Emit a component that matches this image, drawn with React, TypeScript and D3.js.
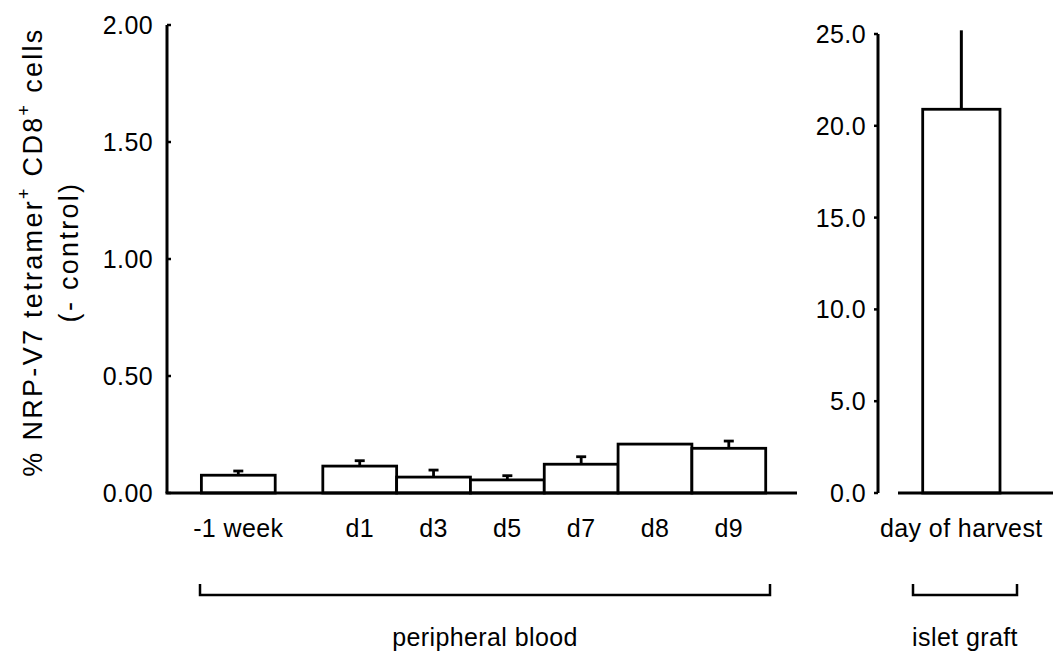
import React from "react";
import * as d3 from "d3";

const categories = ["-1 week", "d1", "d3", "d5", "d7", "d8", "d9"];
const slots = [0, 1.645, 2.645, 3.645, 4.645, 5.645, 6.645];
const means = [0.076, 0.115, 0.068, 0.056, 0.123, 0.209, 0.191];
const errors = [0.018, 0.023, 0.03, 0.018, 0.032, 0, 0.031];
const leftTicks = [0, 0.5, 1.0, 1.5, 2.0];

const rightCategory = ["day of harvest"];
const rightMeans = [20.9];
const rightErrors = [4.3];
const rightTicks = [0, 5, 10, 15, 20, 25];

const groupLabels = ["peripheral blood", "islet graft"];

const W = 1058;
const H = 658;
const FONT = "'Liberation Sans', Arial, Helvetica, sans-serif";
const fs = 25;
const ls = 0.4;

export default function App() {
  const yL = d3.scaleLinear().domain([0, 2]).range([493, 25]);
  const yR = d3.scaleLinear().domain([0, 25]).range([493, 34]);
  const xL = d3.scaleLinear().domain([0, 6.645]).range([238.3, 728.8]);
  const bw = xL(1) - xL(0);
  const xR = d3.scaleBand().domain(rightCategory).range([922.7, 1000]);

  const axisXL = 167;
  const axisXR = 878;
  const fmtL = d3.format(".2f");
  const fmtR = d3.format(".1f");

  const txt = { fontFamily: FONT, fontSize: fs, letterSpacing: ls, fill: "#000" } as const;
  const ytxt = { ...txt, fontSize: 27, letterSpacing: 2.3 };

  return (
    <svg width={W} height={H} style={{ position: "absolute", left: 0, top: 0, background: "#fff" }}>
      <rect x={0} y={0} width={W} height={H} fill="#fff" />
      {/* Y axis label */}
      <g transform={`translate(42,252) rotate(-90)`}>
        <text textAnchor="middle" style={ytxt}>
          % NRP-V7 tetramer
          <tspan fontSize={18} dy={-12}>+</tspan>
          <tspan dy={12}> CD8</tspan>
          <tspan fontSize={18} dy={-12}>+</tspan>
          <tspan dy={12}> cells</tspan>
        </text>
      </g>
      <g transform={`translate(78,252) rotate(-90)`}>
        <text textAnchor="middle" style={ytxt}>
          (- control)
        </text>
      </g>

      {/* Left panel axis */}
      <line x1={axisXL} x2={axisXL} y1={yL(2)} y2={yL(0)} stroke="#000" strokeWidth={3} />
      {leftTicks.map((t) => (
        <g key={t}>
          <line x1={axisXL} x2={axisXL + 4} y1={yL(t)} y2={yL(t)} stroke="#000" strokeWidth={2.5} />
          <text x={153} y={yL(t)} dy="0.36em" textAnchor="end" style={txt}>
            {fmtL(t)}
          </text>
        </g>
      ))}
      {/* Left bars */}
      {categories.map((c, i) => {
        const cx = xL(slots[i]);
        const top = yL(means[i]);
        const et = yL(means[i] + errors[i]);
        return (
          <g key={c}>
            <rect x={cx - bw / 2} y={top} width={bw} height={yL(0) - top} fill="#fff" stroke="#000" strokeWidth={2.8} />
            {errors[i] > 0 && (
              <g stroke="#000" strokeWidth={2.8}>
                <line x1={cx} x2={cx} y1={top} y2={et} />
                <line x1={cx - 5} x2={cx + 5} y1={et} y2={et} />
              </g>
            )}
            <text x={cx} y={537} textAnchor="middle" style={txt}>
              {c}
            </text>
          </g>
        );
      })}
      <line x1={axisXL - 1.5} x2={797} y1={yL(0)} y2={yL(0)} stroke="#000" strokeWidth={3} />

      {/* Right panel axis */}
      <line x1={axisXR} x2={axisXR} y1={yR(25)} y2={yR(0)} stroke="#000" strokeWidth={3} />
      {rightTicks.map((t) => (
        <g key={t}>
          <line x1={axisXR - 4} x2={axisXR} y1={yR(t)} y2={yR(t)} stroke="#000" strokeWidth={2.5} />
          <text x={866} y={yR(t)} dy="0.36em" textAnchor="end" style={txt}>
            {fmtR(t)}
          </text>
        </g>
      ))}
      {rightCategory.map((c, i) => {
        const x0 = xR(c) as number;
        const w = xR.bandwidth();
        const cx = x0 + w / 2;
        const top = yR(rightMeans[i]);
        const et = yR(rightMeans[i] + rightErrors[i]);
        return (
          <g key={c}>
            <line x1={cx} x2={cx} y1={top} y2={et} stroke="#000" strokeWidth={3} />
            <rect x={x0} y={top} width={w} height={yR(0) - top} fill="#fff" stroke="#000" strokeWidth={2.8} />
            <text x={cx} y={537} textAnchor="middle" style={txt}>
              {c}
            </text>
          </g>
        );
      })}
      <line x1={898} x2={1053} y1={yR(0)} y2={yR(0)} stroke="#000" strokeWidth={3} />

      {/* Group brackets */}
      <path d="M200,584 V595 H770 V584" fill="none" stroke="#000" strokeWidth={2.5} />
      <text x={485} y={646} textAnchor="middle" style={txt}>
        {groupLabels[0]}
      </text>
      <path d="M913,584 V595 H1017 V584" fill="none" stroke="#000" strokeWidth={2.5} />
      <text x={965} y={646} textAnchor="middle" style={txt}>
        {groupLabels[1]}
      </text>
    </svg>
  );
}
